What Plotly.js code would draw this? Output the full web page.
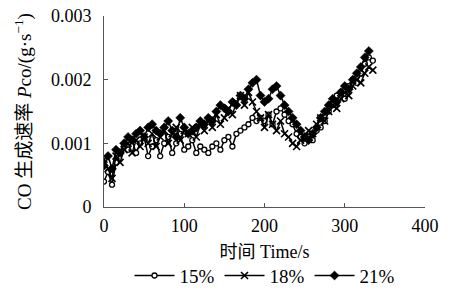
<!DOCTYPE html>
<html><head><meta charset="utf-8">
<script src="https://cdn.plot.ly/plotly-3.0.1.min.js"></script>
<style>html,body{margin:0;padding:0;background:#fff}#c{width:451px;height:298px}</style>
</head><body><div id="c"></div>
<script>
const time = [0,5,10,15,20,25,30,35,40,45,50,55,60,65,70,75,80,85,90,95,100,105,110,115,120,125,130,135,140,145,150,155,160,165,170,175,180,185,190,195,200,205,210,215,220,225,230,235,240,245,250,255,260,265,270,275,280,285,290,295,300,305,310,315,320,325,330,335];
const p15 = [0.00040,0.00055,0.00035,0.00070,0.00085,0.00095,0.00090,0.00105,0.00085,0.00100,0.00110,0.00080,0.00095,0.00105,0.00080,0.00100,0.00110,0.00085,0.00100,0.00115,0.00090,0.00095,0.00105,0.00085,0.00095,0.00090,0.00085,0.00095,0.00100,0.00090,0.00105,0.00110,0.00095,0.00115,0.00120,0.00125,0.00130,0.00140,0.00135,0.00140,0.00135,0.00145,0.00130,0.00150,0.00155,0.00145,0.00135,0.00130,0.00115,0.00110,0.00100,0.00110,0.00105,0.00120,0.00125,0.00135,0.00150,0.00160,0.00175,0.00180,0.00170,0.00190,0.00200,0.00195,0.00210,0.00225,0.00235,0.00230];
const p18 = [0.00075,0.00060,0.00045,0.00080,0.00070,0.00090,0.00100,0.00085,0.00105,0.00095,0.00110,0.00100,0.00115,0.00095,0.00110,0.00120,0.00100,0.00115,0.00125,0.00105,0.00120,0.00115,0.00125,0.00110,0.00130,0.00120,0.00135,0.00125,0.00145,0.00130,0.00140,0.00155,0.00145,0.00165,0.00175,0.00160,0.00180,0.00165,0.00150,0.00140,0.00125,0.00145,0.00130,0.00120,0.00135,0.00115,0.00110,0.00100,0.00095,0.00105,0.00110,0.00120,0.00115,0.00130,0.00140,0.00135,0.00150,0.00160,0.00155,0.00170,0.00180,0.00175,0.00190,0.00200,0.00195,0.00210,0.00220,0.00215];
const p21 = [0.00065,0.00080,0.00060,0.00090,0.00085,0.00100,0.00110,0.00105,0.00115,0.00120,0.00110,0.00125,0.00130,0.00120,0.00115,0.00125,0.00135,0.00120,0.00110,0.00140,0.00125,0.00115,0.00120,0.00125,0.00135,0.00130,0.00140,0.00135,0.00150,0.00160,0.00155,0.00150,0.00165,0.00160,0.00175,0.00170,0.00185,0.00195,0.00200,0.00175,0.00165,0.00170,0.00185,0.00190,0.00175,0.00160,0.00150,0.00140,0.00130,0.00120,0.00110,0.00105,0.00115,0.00125,0.00140,0.00150,0.00160,0.00170,0.00165,0.00180,0.00190,0.00185,0.00200,0.00210,0.00220,0.00235,0.00245];
const seriesNames = ['15%','18%','21%'];
const yTickVals = [0,0.001,0.002,0.003];
const yTickText = ['0','0.001','0.002','0.003'];
const xTickVals = [0,100,200,300,400];

const serif = '"Liberation Serif", "Times New Roman", serif';
const traces = [
  {x: time, y: p15, name: seriesNames[0], mode:'lines+markers',
   line:{color:'#000',width:1.5},
   marker:{symbol:'circle', size:5, color:'#fff', line:{color:'#000',width:1.3}}},
  {x: time.slice(0,p18.length), y: p18, name: seriesNames[1], mode:'lines+markers',
   line:{color:'#000',width:1.5},
   marker:{symbol:'x-thin-open', size:7, color:'#000', line:{color:'#000',width:1.6}}},
  {x: time.slice(0,p21.length), y: p21, name: seriesNames[2], mode:'lines+markers',
   line:{color:'#000',width:1.5},
   marker:{symbol:'diamond', size:7, color:'#000', line:{color:'#000',width:0.5}}}
];
const layout = {
  width:451, height:298,
  margin:{l:104, r:26, t:16, b:91, autoexpand:false},
  paper_bgcolor:'#fff', plot_bgcolor:'#fff',
  showlegend:true,
  legend:{orientation:'h', x:0.5, xanchor:'center', y:-0.26, yanchor:'top',
          font:{family:serif, size:19, color:'#000'}, itemwidth:40, tracegroupgap:0},
  xaxis:{range:[0,400], tickvals:xTickVals, showgrid:false, zeroline:false,
         showline:true, linecolor:'#555', linewidth:1, ticks:'inside', ticklen:4, tickcolor:'#555',
         tickfont:{family:serif, size:18, color:'#000'}, ticklabelstandoff:2,
         title:{text:'时间 Time/s', font:{family:serif+', "Noto Sans CJK SC"', size:18, color:'#000'}, standoff:10}},
  yaxis:{range:[0,0.003], tickvals:yTickVals, ticktext:yTickText, showgrid:false, zeroline:false,
         showline:true, linecolor:'#555', linewidth:1, ticks:'inside', ticklen:4, tickcolor:'#555',
         tickfont:{family:serif, size:18, color:'#000'}, ticklabelstandoff:8,
         title:{text:'CO 生成速率 <i>P</i>co/(g·s<sup>−1</sup>)', font:{family:serif+', "Noto Sans CJK SC"', size:19, color:'#000'}, standoff:14}}
};
Plotly.newPlot('c', traces, layout, {displayModeBar:false, staticPlot:true});
</script></body></html>
